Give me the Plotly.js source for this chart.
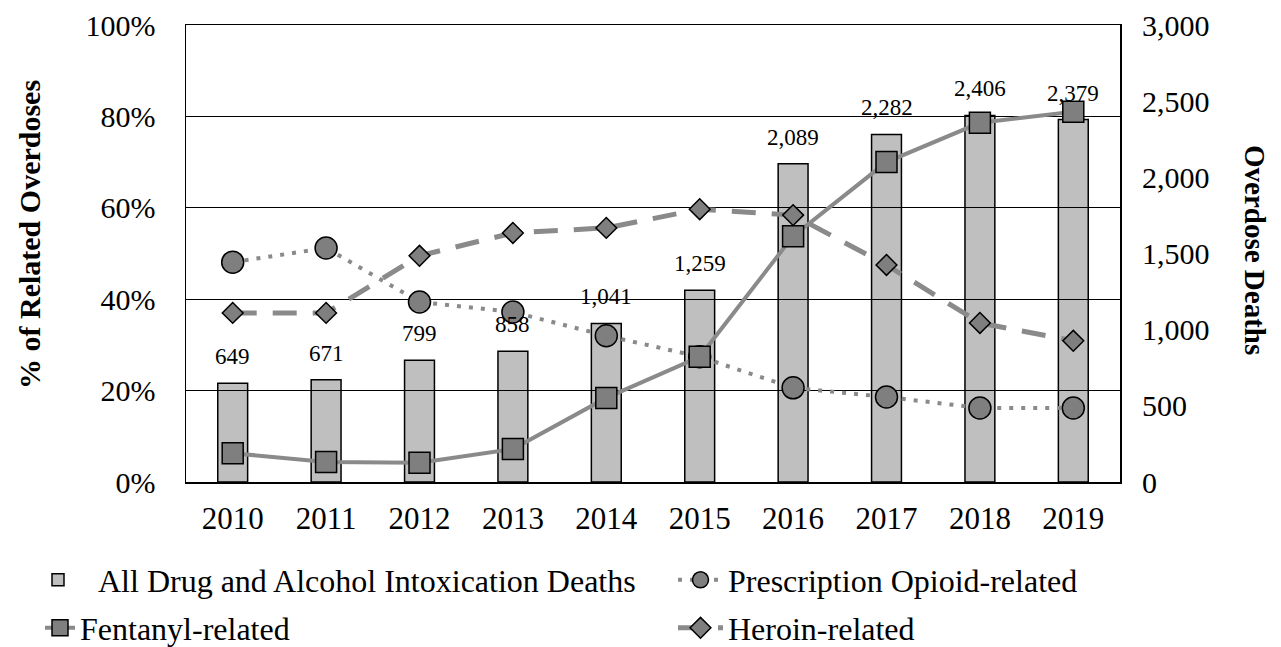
<!DOCTYPE html>
<html>
<head>
<meta charset="utf-8">
<script src="https://cdn.plot.ly/plotly-3.0.1.min.js"></script>
<style>html,body{margin:0;padding:0;background:#fff;}#chart{width:1281px;height:647px;}</style>
</head>
<body>
<div id="chart"></div>
<script>
const years = [2010, 2011, 2012, 2013, 2014, 2015, 2016, 2017, 2018, 2019];
const allDeaths = [649, 671, 799, 858, 1041, 1259, 2089, 2282, 2406, 2379];
const prescriptionPct = [48.1, 51.2, 39.4, 37.2, 32.0, 27.4, 20.6, 18.6, 16.2, 16.2];
const fentanylPct = [6.3, 4.4, 4.2, 7.2, 18.4, 27.4, 53.8, 70.0, 78.6, 81.0];
const heroinPct = [37.0, 37.0, 49.5, 54.5, 55.6, 59.7, 58.4, 47.5, 34.8, 30.9];

const serif = 'Liberation Serif';
const lineCol = '#8a8a8a';
const mkCol = '#7f7f7f';

const PL = 186, PR = 1120, PT = 25, PB = 482;
const px = a => (a - PL) / (PR - PL);
const py = a => (PB - a) / (PB - PT);

const traces = [
  {type:'bar', x:years, y:allDeaths, yaxis:'y', name:'All Drug and Alcohol Intoxication Deaths',
   width:0.32, marker:{color:'rgba(0,0,0,0.25)', line:{color:'#000', width:1.5}}, legend:'legend'},
  {type:'scatter', mode:'lines+markers', x:years, y:prescriptionPct, yaxis:'y2', name:'Prescription Opioid-related',
   line:{color:lineCol, width:4, dash:'4px,8px'}, marker:{symbol:'circle', size:22, color:mkCol, line:{color:'#000', width:1.5}}, legend:'legend2'},
  {type:'scatter', mode:'lines+markers', x:years, y:fentanylPct, yaxis:'y2', name:'Fentanyl-related',
   line:{color:lineCol, width:4}, marker:{symbol:'square', size:21, color:mkCol, line:{color:'#000', width:1.5}}, legend:'legend3'},
  {type:'scatter', mode:'lines+markers', x:years, y:heroinPct, yaxis:'y2', name:'Heroin-related',
   line:{color:lineCol, width:5, dash:'24px,16px'}, marker:{symbol:'diamond', size:16, color:mkCol, line:{color:'#000', width:1.5}}, legend:'legend4'}
];

const annotations = allDeaths.map((v,i)=>({
  x: years[i], y: v, xref:'x', yref:'y', text: v.toLocaleString('en-US'),
  showarrow:false, yanchor:'bottom', yshift:12, font:{family:serif, size:23, color:'#000'}
}));
annotations.push({xref:'paper', yref:'paper', x:px(30), y:py(235), xanchor:'center', yanchor:'middle',
  text:'<b>% of Related Overdoses</b>', textangle:-90, showarrow:false, font:{family:serif, size:30, color:'#000'}});
annotations.push({xref:'paper', yref:'paper', x:px(1255), y:py(250), xanchor:'center', yanchor:'middle',
  text:'<b>Overdose Deaths</b>', textangle:90, showarrow:false, font:{family:serif, size:29, color:'#000'}});

const legBase = {orientation:'h', xanchor:'left', yanchor:'middle', bgcolor:'rgba(0,0,0,0)',
  font:{family:serif, size:32, color:'#000'}, borderwidth:0};

const layout = {
  width:1281, height:647,
  margin:{l:PL, r:1281-PR, t:PT, b:647-PB, autoexpand:false},
  paper_bgcolor:'#fff', plot_bgcolor:'#fff',
  font:{family:serif, size:30, color:'#000'},
  showlegend:true,
  xaxis:{range:[2009.5, 2019.5], tickmode:'array', tickvals:years, ticktext:years.map(String),
    showline:true, linecolor:'#000', linewidth:1.5, mirror:true, ticks:'', ticklabelstandoff:8,
    tickfont:{family:serif, size:31}, showgrid:false, zeroline:false},
  yaxis:{range:[0,3000], dtick:500, tickformat:',', side:'right', showgrid:false,
    showline:false, ticks:'', zeroline:false, tickfont:{family:serif, size:30}, ticklabelstandoff:21},
  yaxis2:{range:[0,100], dtick:20, ticksuffix:'%', overlaying:'y', side:'left', showgrid:true, gridcolor:'#000', gridwidth:1.2,
    showline:true, linecolor:'#000', linewidth:1.5, mirror:true, ticks:'', zeroline:false,
    tickfont:{family:serif, size:30}, ticklabelstandoff:23},
  legend:Object.assign({}, legBase, {x:px(18), y:py(580), itemwidth:70}),
  legend2:Object.assign({}, legBase, {x:px(673), y:py(580), itemwidth:45}),
  legend3:Object.assign({}, legBase, {x:px(40), y:py(628), itemwidth:30}),
  legend4:Object.assign({}, legBase, {x:px(673), y:py(628), itemwidth:45}),
  annotations: annotations
};

Plotly.newPlot('chart', traces, layout, {displayModeBar:false, staticPlot:true});
</script>
</body>
</html>
